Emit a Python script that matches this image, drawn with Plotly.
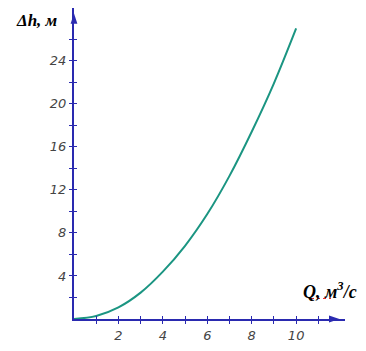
import plotly.graph_objects as go

# Data
Q = [0, 1, 2, 3, 4, 5, 6, 7, 8, 9, 10]
dh = [0, 0.28, 1.08, 2.45, 4.4, 6.8, 9.75, 13.3, 17.4, 21.9, 27.0]

x_ticks = [2, 4, 6, 8, 10]
x_minor = [1, 3, 5, 7, 9, 11]
y_ticks = [4, 8, 12, 16, 20, 24]
y_minor = [2, 6, 10, 14, 18, 22, 26]

AX = "#2a2ab0"
CURVE = "#1b9582"
XMAX = 12.2
YMAX = 28.9

fig = go.Figure()
fig.add_trace(go.Scatter(x=Q, y=dh, mode="lines",
                         line=dict(color=CURVE, width=2, shape="spline", smoothing=1.0),
                         hoverinfo="skip", showlegend=False))
# arrow heads at the ends of the axes
fig.add_trace(go.Scatter(x=[XMAX - 0.25, 0], y=[0, YMAX - 0.5], mode="markers",
                         marker=dict(symbol="arrow", angle=[90, 0], size=11, color=AX,
                                     line=dict(width=0)),
                         cliponaxis=False, hoverinfo="skip", showlegend=False))
# invisible trace for overlay axes
fig.add_trace(go.Scatter(x=[0], y=[0], xaxis="x2", yaxis="y2", mode="markers",
                         marker=dict(opacity=0), showlegend=False, hoverinfo="skip"))

tickfont = dict(family="DejaVu Sans", size=13, color="#444", style="italic")

def minor(vals, side):
    return dict(tickvals=vals, ticks=side, ticklen=3, tickwidth=1, tickcolor=AX, showgrid=False)

fig.update_layout(
    width=366, height=351,
    margin=dict(l=74, r=21, t=8, b=25),
    paper_bgcolor="white", plot_bgcolor="white",
    xaxis=dict(range=[0, XMAX], tickvals=x_ticks,
               ticks="outside", ticklen=3, tickwidth=1, tickcolor=AX,
               minor=minor(x_minor, "outside"),
               showgrid=False, zeroline=False, showline=True, linecolor=AX, linewidth=2,
               tickfont=tickfont, fixedrange=True),
    yaxis=dict(range=[0, YMAX], tickvals=y_ticks,
               ticks="outside", ticklen=3, tickwidth=1, tickcolor=AX,
               minor=minor(y_minor, "outside"),
               showgrid=False, zeroline=False, showline=True, linecolor=AX, linewidth=2,
               tickfont=tickfont, fixedrange=True),
    xaxis2=dict(range=[0, XMAX], overlaying="x", anchor="y2", tickvals=x_ticks,
                ticks="inside", ticklen=3, tickwidth=1, tickcolor=AX,
                minor=minor(x_minor, "inside"),
                showticklabels=False, showgrid=False, zeroline=False, showline=False),
    yaxis2=dict(range=[0, YMAX], overlaying="y", anchor="x2", tickvals=y_ticks,
                ticks="inside", ticklen=3, tickwidth=1, tickcolor=AX,
                minor=minor(y_minor, "inside"),
                showticklabels=False, showgrid=False, zeroline=False, showline=False),
)

labfont = dict(family="Liberation Serif", size=17, color="black", weight="bold", style="italic")
fig.add_annotation(x=(37 - 74) / 271, y=(351 - 25 - 21) / 318, xref="paper", yref="paper",
                   text="Δh, м", showarrow=False, font=labfont,
                   xanchor="center", yanchor="middle")
fig.add_annotation(x=(330 - 74) / 271, y=(351 - 25 - 297) / 318, xref="paper", yref="paper",
                   text="Q, м<sup>3</sup>/с", showarrow=False,
                   font=dict(family="Liberation Serif", size=18, color="black",
                             weight="bold", style="italic"),
                   xanchor="center", yanchor="middle")
# red spell-check squiggle under the unit
fig.add_shape(type="line", xref="paper", yref="paper",
              x0=(311 - 74) / 271, x1=(331 - 74) / 271,
              y0=(351 - 25 - 305) / 318, y1=(351 - 25 - 305) / 318,
              line=dict(color="#e02020", width=1, dash="dot"))

fig.write_html("out.html")
